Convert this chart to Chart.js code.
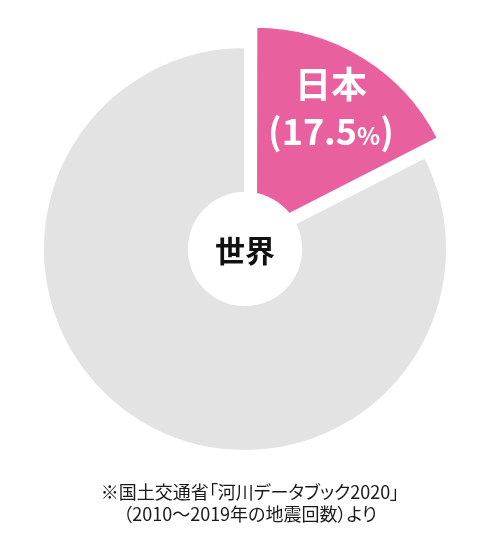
<!DOCTYPE html>
<html>
<head>
<meta charset="utf-8">
<script src="https://cdn.jsdelivr.net/npm/chart.js@4"></script>
<style>
  html, body { margin: 0; padding: 0; background: #fff; }
  #wrap { position: relative; width: 498px; height: 550px; }
  #note {
    position: absolute; left: 0; top: 480px; width: 500px;
    text-align: center; font-family: "Noto Sans CJK JP", sans-serif;
    font-size: 18px; line-height: 22px; color: #1a1a1a;
    font-feature-settings: "palt";
  }
</style>
</head>
<body>
<div id="wrap">
  <canvas id="pie" width="498" height="550"></canvas>
  <div id="note">※国土交通省「河川データブック2020」<br>（2010～2019年の地震回数）より</div>
</div>
<script>
var labels = ['日本', '世界'];
var values = [17.5, 82.5];
var colors = ['#E9609F', '#E3E3E3'];
var offsets = [84, 0];

const FONT = '"Noto Sans CJK JP", sans-serif';

// white hole in the middle + text labels
const pieText = {
    id: 'pieText',
    afterDatasetsDraw(chart) {
        const ctx = chart.ctx;
        const meta = chart.getDatasetMeta(0);
        const arc = meta.data[0];
        const p = arc.getProps(['x', 'y', 'startAngle', 'endAngle', 'outerRadius'], true);

        ctx.save();
        ctx.fillStyle = '#fff';
        ctx.beginPath();
        ctx.arc(p.x, p.y, p.outerRadius * 0.283, 0, Math.PI * 2);
        ctx.fill();

        ctx.textAlign = 'center';
        ctx.textBaseline = 'middle';
        ctx.fillStyle = '#111';
        ctx.font = 'bold 30px ' + FONT;
        ctx.fillText(labels[1], p.x, p.y + 2);

        // label inside the pulled out slice
        const mid = (p.startAngle + p.endAngle) / 2;
        const off = (arc.options.offset || 0) / 4;
        const r = p.outerRadius * 0.71;
        const lx = p.x + Math.cos(mid) * (off + r);
        const ly = p.y + Math.sin(mid) * (off + r);

        ctx.fillStyle = '#fff';
        ctx.font = 'bold 36px ' + FONT;
        ctx.fillText(labels[0], lx, ly - 24);

        const parts = [
            ['(' + values[0], 'bold 36px ' + FONT, 0],
            ['%', 'bold 24px ' + FONT, 4],
            [')', 'bold 36px ' + FONT, 0]
        ];
        let w = 0;
        parts.forEach(pt => { ctx.font = pt[1]; w += ctx.measureText(pt[0]).width; });
        let x = lx - w / 2;
        ctx.textAlign = 'left';
        parts.forEach(pt => {
            ctx.font = pt[1];
            ctx.fillText(pt[0], x, ly + 23 + pt[2]);
            x += ctx.measureText(pt[0]).width;
        });
        ctx.restore();
    }
};

new Chart(document.getElementById('pie'), {
    type: 'pie',
    data: {
        labels: labels,
        datasets: [{
            data: values,
            backgroundColor: colors,
            borderColor: '#fff',
            borderWidth: 2,
            offset: offsets,
            radius: 202
        }]
    },
    options: {
        responsive: false,
        animation: false,
        devicePixelRatio: 1,
        layout: { padding: { left: 20, right: 28, top: 20, bottom: 72 } },
        plugins: {
            legend: { display: false },
            tooltip: { enabled: false }
        }
    },
    plugins: [pieText]
});
</script>
</body>
</html>
